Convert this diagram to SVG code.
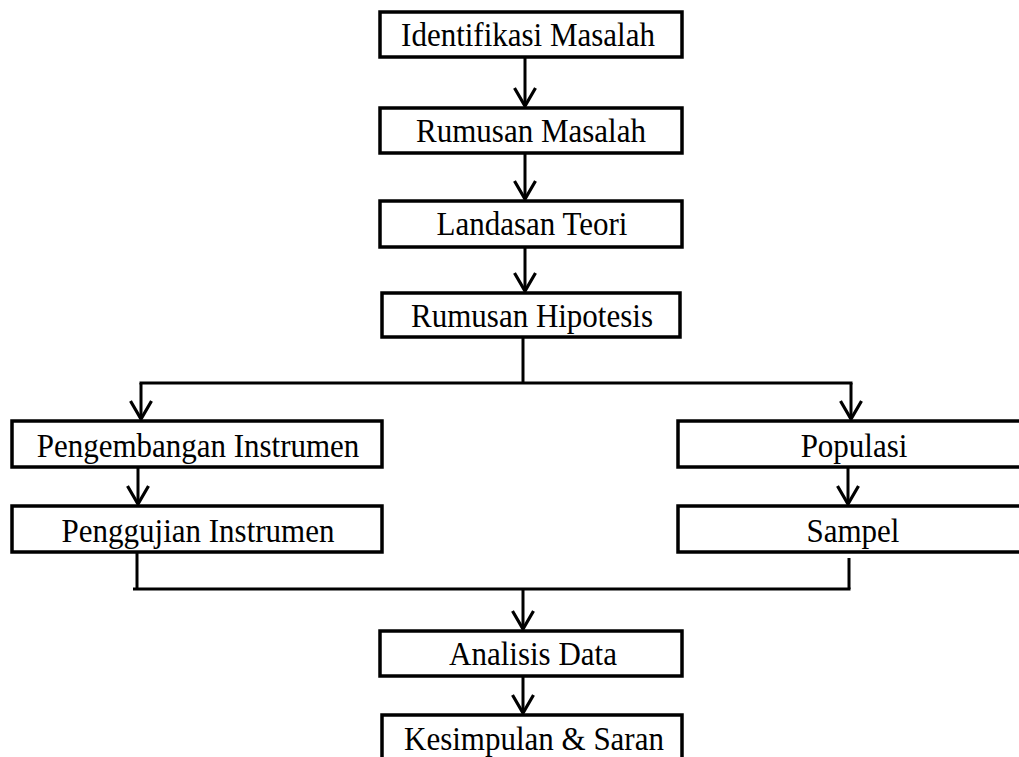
<svg xmlns="http://www.w3.org/2000/svg" width="1019" height="757" viewBox="0 0 1019 757">
<style>
.box{fill:#fff;stroke:#000;stroke-width:3.5}
.lbl{font-family:"Liberation Serif","Times New Roman",serif;font-size:31px;fill:#000;text-anchor:middle}
.ln{fill:none;stroke:#000;stroke-width:3}
</style>
<defs>
<marker id="ah" markerUnits="userSpaceOnUse" markerWidth="30" markerHeight="30" viewBox="-20 -15 25 30" refX="0" refY="0" orient="auto">
<path d="M-18,-10.5 L0,0 L-18,10.5" fill="none" stroke="#000" stroke-width="3.2"/>
</marker>
</defs>
<rect width="1019" height="757" fill="#fff"/>
<g id="connectors">
<path class="ln" d="M525,57 V106" marker-end="url(#ah)"/>
<path class="ln" d="M525,153 V199" marker-end="url(#ah)"/>
<path class="ln" d="M525,247 V291" marker-end="url(#ah)"/>
<path class="ln" d="M523,337 V383"/>
<path class="ln" d="M139.5,383 H852.5"/>
<path class="ln" d="M141,383 V419" marker-end="url(#ah)"/>
<path class="ln" d="M851,383 V419" marker-end="url(#ah)"/>
<path class="ln" d="M138,467 V504" marker-end="url(#ah)"/>
<path class="ln" d="M848,467 V504" marker-end="url(#ah)"/>
<path class="ln" d="M137,552 V589"/>
<path class="ln" d="M849,558 V589"/>
<path class="ln" d="M133,589 H850.5"/>
<path class="ln" d="M523,589 V629" marker-end="url(#ah)"/>
<path class="ln" d="M523,676 V713" marker-end="url(#ah)"/>
</g>
<g id="n1"><rect class="box" x="380" y="12" width="302" height="45"/><text class="lbl" transform="translate(528,46) scale(1,1.08)">Identifikasi Masalah</text></g>
<g id="n2"><rect class="box" x="380" y="108" width="302" height="45"/><text class="lbl" transform="translate(531,142) scale(1,1.08)">Rumusan Masalah</text></g>
<g id="n3"><rect class="box" x="380" y="201" width="302" height="46"/><text class="lbl" transform="translate(532,235) scale(1,1.08)">Landasan Teori</text></g>
<g id="n4"><rect class="box" x="382" y="293" width="298" height="44"/><text class="lbl" transform="translate(532,327) scale(1,1.08)">Rumusan Hipotesis</text></g>
<g id="n5"><rect class="box" x="12" y="421" width="370" height="46"/><text class="lbl" transform="translate(198,457) scale(1,1.08)">Pengembangan Instrumen</text></g>
<g id="n6"><rect class="box" x="12" y="506" width="370" height="46"/><text class="lbl" transform="translate(198,542) scale(1,1.08)">Penggujian Instrumen</text></g>
<g id="n7"><rect class="box" x="678" y="421" width="350" height="46"/><text class="lbl" transform="translate(854,457) scale(1,1.08)">Populasi</text></g>
<g id="n8"><rect class="box" x="678" y="506" width="350" height="46"/><text class="lbl" transform="translate(853,542) scale(1,1.08)">Sampel</text></g>
<g id="n9"><rect class="box" x="380" y="631" width="302" height="45"/><text class="lbl" transform="translate(533,665) scale(1,1.08)">Analisis Data</text></g>
<g id="n10"><rect class="box" x="382" y="715" width="300" height="50"/><text class="lbl" transform="translate(534,750) scale(1,1.08)">Kesimpulan &amp; Saran</text></g>
</svg>
